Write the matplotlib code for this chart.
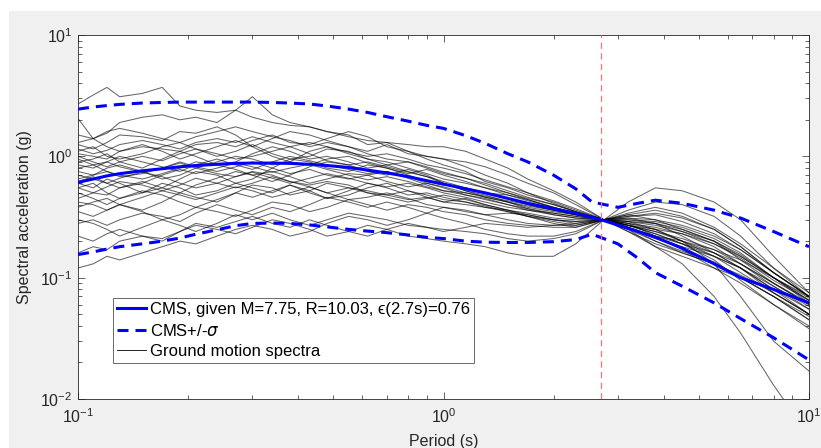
import matplotlib
matplotlib.use("Agg")
import matplotlib.pyplot as plt
from matplotlib.patches import Rectangle

plt.rcParams['font.family'] = ['Liberation Sans', 'DejaVu Sans']
plt.rcParams['mathtext.fontset'] = 'custom'
plt.rcParams['mathtext.rm'] = 'Liberation Sans'
plt.rcParams['mathtext.it'] = 'DejaVu Sans:italic'

# ---- data ----
periods_cms = [0.10, 0.11, 0.12, 0.13, 0.15, 0.17, 0.19, 0.21, 0.24, 0.27, 0.30, 0.34, 0.38, 0.43,
               0.48, 0.55, 0.62, 0.70, 0.80, 0.90, 1.0, 1.15, 1.3, 1.5, 1.7, 2.0, 2.3, 2.7,
               3.2, 3.8, 4.5, 5.5, 6.5, 8.0, 10.0]
cms = [0.61, 0.65, 0.69, 0.72, 0.76, 0.79, 0.82, 0.84, 0.86, 0.875, 0.88, 0.88, 0.875, 0.86,
       0.84, 0.81, 0.77, 0.73, 0.68, 0.63, 0.59, 0.54, 0.50, 0.45, 0.41, 0.37, 0.34, 0.30,
       0.255, 0.215, 0.175, 0.13, 0.10, 0.08, 0.062]

periods_sig = [0.10, 0.11, 0.12, 0.13, 0.15, 0.17, 0.19, 0.21, 0.24, 0.27, 0.30, 0.34, 0.38, 0.43,
               0.48, 0.55, 0.62, 0.70, 0.80, 0.90, 1.0, 1.15, 1.3, 1.5, 1.7, 2.0, 2.3, 2.55,
               3.0, 3.4, 3.8, 4.5, 5.5, 6.5, 8.0, 10.0]
cms_plus = [2.45, 2.55, 2.62, 2.68, 2.75, 2.78, 2.8, 2.8, 2.8, 2.8, 2.8, 2.78, 2.75, 2.7,
            2.6, 2.45, 2.3, 2.12, 1.95, 1.8, 1.7, 1.48, 1.28, 1.05, 0.9, 0.70, 0.54, 0.42,
            0.38, 0.41, 0.435, 0.41, 0.36, 0.31, 0.24, 0.18]
cms_minus = [0.155, 0.163, 0.172, 0.18, 0.19, 0.2, 0.212, 0.228, 0.248, 0.268, 0.28, 0.282, 0.28, 0.272,
             0.262, 0.25, 0.242, 0.235, 0.225, 0.215, 0.21, 0.2, 0.196, 0.195, 0.195, 0.198, 0.206, 0.228,
             0.19, 0.145, 0.11, 0.085, 0.062, 0.046, 0.032, 0.021]

periods_gm = [0.10, 0.11, 0.12, 0.13, 0.15, 0.17, 0.19, 0.21, 0.24, 0.27, 0.30, 0.34, 0.38, 0.43,
              0.48, 0.55, 0.62, 0.70, 0.80, 0.90, 1.0, 1.15, 1.3, 1.5, 1.7, 2.0, 2.3, 2.75,
              3.2, 3.8, 4.5, 5.5, 6.5, 8.0, 10.0]
gm01 = [2.7, 3.2, 3.7, 3.1, 3.3, 3.7, 2.6, 2.4, 2.3, 2.4, 2.1, 1.9, 1.8, 1.75, 1.6, 1.45, 1.35, 1.3, 1.25, 1.2, 1.2, 1.1, 0.95, 0.8, 0.65, 0.52, 0.42, 0.30, 0.30, 0.28, 0.24, 0.19, 0.15, 0.10, 0.07]
gm02 = [2.05, 1.4, 1.55, 1.9, 2.1, 2.2, 2.0, 2.1, 1.9, 2.4, 3.1, 2.2, 1.9, 1.75, 1.6, 1.5, 1.25, 1.3, 1.1, 0.95, 0.85, 0.75, 0.62, 0.55, 0.48, 0.42, 0.36, 0.30, 0.32, 0.34, 0.31, 0.25, 0.18, 0.11, 0.07]
gm03 = [1.25, 1.15, 1.3, 1.5, 1.45, 1.35, 1.6, 1.55, 1.75, 1.5, 1.2, 1.4, 1.6, 1.5, 1.35, 1.2, 1.1, 1.25, 1.05, 1.0, 0.95, 0.9, 0.82, 0.7, 0.6, 0.5, 0.4, 0.30, 0.27, 0.24, 0.2, 0.16, 0.12, 0.08, 0.055]
gm04 = [1.05, 1.0, 0.95, 1.1, 1.2, 1.15, 1.1, 1.25, 1.3, 1.2, 1.35, 1.5, 1.3, 1.25, 1.4, 1.6, 1.45, 1.2, 1.1, 1.0, 0.95, 0.82, 0.7, 0.6, 0.5, 0.41, 0.35, 0.30, 0.36, 0.42, 0.4, 0.32, 0.22, 0.12, 0.075]
gm05 = [0.9, 0.95, 1.05, 0.9, 0.8, 0.95, 1.1, 1.0, 0.85, 0.9, 1.05, 1.2, 1.1, 0.95, 1.0, 0.9, 0.8, 0.85, 0.75, 0.68, 0.6, 0.52, 0.46, 0.42, 0.38, 0.35, 0.33, 0.30, 0.26, 0.22, 0.19, 0.15, 0.12, 0.075, 0.05]
gm06 = [0.75, 0.7, 0.8, 0.85, 0.75, 0.65, 0.7, 0.8, 0.9, 1.0, 0.95, 0.85, 0.9, 1.1, 1.2, 1.05, 0.95, 0.9, 0.8, 0.72, 0.65, 0.6, 0.55, 0.5, 0.45, 0.4, 0.35, 0.30, 0.25, 0.2, 0.165, 0.135, 0.1, 0.07, 0.048]
gm07 = [0.6, 0.55, 0.65, 0.6, 0.5, 0.55, 0.65, 0.75, 0.7, 0.6, 0.65, 0.8, 0.95, 0.9, 0.8, 0.75, 0.85, 0.8, 0.7, 0.62, 0.58, 0.55, 0.5, 0.48, 0.44, 0.38, 0.34, 0.30, 0.27, 0.24, 0.21, 0.17, 0.13, 0.09, 0.062]
gm08 = [0.45, 0.5, 0.48, 0.55, 0.62, 0.55, 0.5, 0.58, 0.66, 0.75, 0.7, 0.62, 0.7, 0.82, 0.9, 0.85, 0.75, 0.7, 0.78, 0.7, 0.6, 0.52, 0.48, 0.42, 0.37, 0.33, 0.31, 0.30, 0.28, 0.25, 0.2, 0.15, 0.11, 0.075, 0.05]
gm09 = [0.16, 0.18, 0.17, 0.2, 0.22, 0.21, 0.24, 0.27, 0.25, 0.23, 0.26, 0.3, 0.28, 0.25, 0.22, 0.24, 0.27, 0.25, 0.22, 0.21, 0.2, 0.19, 0.18, 0.16, 0.15, 0.15, 0.19, 0.30, 0.42, 0.55, 0.52, 0.42, 0.3, 0.15, 0.075]
gm10 = [0.12, 0.13, 0.15, 0.14, 0.16, 0.18, 0.2, 0.19, 0.22, 0.25, 0.27, 0.25, 0.22, 0.24, 0.28, 0.32, 0.3, 0.27, 0.3, 0.34, 0.38, 0.35, 0.33, 0.34, 0.33, 0.3, 0.29, 0.30, 0.29, 0.25, 0.2, 0.13, 0.07, 0.03, 0.017]
gm11 = [0.55, 0.6, 0.5, 0.45, 0.5, 0.6, 0.55, 0.48, 0.52, 0.6, 0.55, 0.5, 0.58, 0.52, 0.45, 0.48, 0.55, 0.6, 0.52, 0.46, 0.42, 0.45, 0.4, 0.36, 0.32, 0.28, 0.26, 0.30, 0.25, 0.18, 0.13, 0.07, 0.035, 0.013, 0.005]
gm12 = [1.1, 1.2, 1.0, 0.95, 1.05, 1.2, 1.3, 1.15, 1.0, 1.1, 1.25, 1.05, 0.95, 1.0, 1.15, 1.1, 0.95, 0.85, 0.9, 0.8, 0.72, 0.66, 0.6, 0.52, 0.46, 0.4, 0.35, 0.30, 0.31, 0.3, 0.27, 0.22, 0.17, 0.11, 0.07]
gm13 = [0.8, 0.85, 0.75, 0.7, 0.65, 0.72, 0.8, 0.9, 0.85, 0.78, 0.7, 0.75, 0.68, 0.6, 0.65, 0.72, 0.7, 0.62, 0.56, 0.6, 0.55, 0.48, 0.44, 0.4, 0.37, 0.34, 0.32, 0.30, 0.24, 0.19, 0.16, 0.13, 0.105, 0.075, 0.05]
gm14 = [0.38, 0.42, 0.45, 0.4, 0.36, 0.42, 0.5, 0.46, 0.42, 0.5, 0.58, 0.55, 0.48, 0.52, 0.6, 0.55, 0.5, 0.46, 0.42, 0.45, 0.48, 0.44, 0.4, 0.36, 0.33, 0.3, 0.28, 0.30, 0.33, 0.3, 0.25, 0.2, 0.15, 0.1, 0.065]
gm15 = [1.3, 1.4, 1.2, 1.1, 1.25, 1.1, 0.95, 1.05, 1.2, 1.35, 1.2, 1.0, 0.9, 0.85, 0.95, 1.0, 0.88, 0.8, 0.72, 0.78, 0.7, 0.62, 0.55, 0.48, 0.43, 0.38, 0.34, 0.30, 0.27, 0.23, 0.19, 0.16, 0.13, 0.09, 0.06]
gm16 = [0.5, 0.45, 0.4, 0.45, 0.52, 0.48, 0.42, 0.38, 0.44, 0.5, 0.46, 0.52, 0.58, 0.5, 0.45, 0.52, 0.6, 0.55, 0.48, 0.5, 0.46, 0.42, 0.38, 0.35, 0.32, 0.29, 0.27, 0.30, 0.34, 0.38, 0.34, 0.26, 0.19, 0.12, 0.07]
gm17 = [0.95, 0.85, 0.9, 1.0, 0.9, 0.82, 0.75, 0.85, 0.95, 0.85, 0.78, 0.9, 1.0, 0.92, 0.85, 0.78, 0.72, 0.75, 0.68, 0.6, 0.56, 0.5, 0.46, 0.42, 0.39, 0.36, 0.33, 0.30, 0.28, 0.26, 0.23, 0.18, 0.13, 0.085, 0.055]
gm18 = [0.65, 0.7, 0.75, 0.68, 0.72, 0.8, 0.9, 0.82, 0.75, 0.82, 0.9, 0.8, 0.72, 0.78, 0.7, 0.65, 0.7, 0.75, 0.66, 0.58, 0.52, 0.48, 0.45, 0.4, 0.36, 0.33, 0.31, 0.30, 0.29, 0.27, 0.24, 0.2, 0.155, 0.1, 0.065]
gm19 = [0.35, 0.32, 0.36, 0.4, 0.35, 0.3, 0.33, 0.38, 0.35, 0.32, 0.36, 0.42, 0.4, 0.35, 0.38, 0.44, 0.4, 0.36, 0.4, 0.38, 0.35, 0.33, 0.3, 0.28, 0.27, 0.26, 0.26, 0.30, 0.28, 0.22, 0.17, 0.12, 0.09, 0.06, 0.04]
gm20 = [1.5, 1.4, 1.6, 1.7, 1.55, 1.4, 1.3, 1.45, 1.6, 1.75, 1.6, 1.45, 1.35, 1.2, 1.3, 1.2, 1.05, 0.95, 0.9, 0.82, 0.74, 0.66, 0.58, 0.5, 0.44, 0.38, 0.34, 0.30, 0.26, 0.22, 0.2, 0.17, 0.14, 0.1, 0.068]
gm21 = [0.7, 0.65, 0.6, 0.66, 0.74, 0.68, 0.6, 0.55, 0.6, 0.68, 0.75, 0.7, 0.62, 0.58, 0.62, 0.58, 0.5, 0.48, 0.52, 0.48, 0.44, 0.42, 0.39, 0.35, 0.32, 0.3, 0.29, 0.30, 0.26, 0.21, 0.18, 0.15, 0.12, 0.085, 0.058]
gm22 = [0.28, 0.3, 0.27, 0.3, 0.34, 0.32, 0.29, 0.34, 0.4, 0.36, 0.33, 0.38, 0.35, 0.4, 0.46, 0.42, 0.38, 0.42, 0.38, 0.34, 0.31, 0.28, 0.25, 0.23, 0.22, 0.22, 0.24, 0.30, 0.31, 0.28, 0.22, 0.16, 0.12, 0.08, 0.05]
gm23 = [1.0, 0.9, 0.82, 0.9, 1.0, 0.92, 1.05, 1.15, 1.05, 0.95, 1.0, 1.1, 1.2, 1.05, 0.92, 0.85, 0.9, 0.82, 0.74, 0.68, 0.62, 0.55, 0.5, 0.45, 0.4, 0.36, 0.33, 0.30, 0.32, 0.33, 0.29, 0.23, 0.17, 0.11, 0.07]
gm24 = [0.42, 0.4, 0.36, 0.4, 0.46, 0.52, 0.48, 0.44, 0.5, 0.56, 0.52, 0.46, 0.5, 0.56, 0.5, 0.44, 0.46, 0.5, 0.45, 0.4, 0.38, 0.36, 0.33, 0.3, 0.28, 0.27, 0.27, 0.30, 0.24, 0.18, 0.15, 0.12, 0.1, 0.07, 0.045]
gm25 = [0.85, 0.8, 0.9, 0.82, 0.74, 0.8, 0.88, 0.8, 0.72, 0.68, 0.74, 0.66, 0.6, 0.66, 0.72, 0.66, 0.6, 0.56, 0.6, 0.55, 0.5, 0.46, 0.42, 0.38, 0.36, 0.34, 0.32, 0.30, 0.29, 0.28, 0.25, 0.2, 0.14, 0.09, 0.06]
gm26 = [0.55, 0.5, 0.56, 0.62, 0.58, 0.52, 0.58, 0.66, 0.6, 0.55, 0.6, 0.68, 0.62, 0.56, 0.5, 0.55, 0.52, 0.48, 0.44, 0.46, 0.42, 0.4, 0.38, 0.36, 0.34, 0.31, 0.3, 0.30, 0.27, 0.23, 0.19, 0.14, 0.095, 0.06, 0.038]
gm27 = [0.3, 0.28, 0.25, 0.22, 0.26, 0.3, 0.27, 0.24, 0.28, 0.33, 0.3, 0.34, 0.3, 0.27, 0.3, 0.34, 0.32, 0.3, 0.27, 0.26, 0.25, 0.24, 0.23, 0.21, 0.2, 0.21, 0.23, 0.30, 0.26, 0.2, 0.16, 0.13, 0.1, 0.07, 0.045]
gm28 = [0.22, 0.2, 0.23, 0.25, 0.22, 0.2, 0.24, 0.28, 0.26, 0.29, 0.32, 0.28, 0.26, 0.3, 0.27, 0.24, 0.22, 0.25, 0.28, 0.26, 0.24, 0.26, 0.28, 0.27, 0.26, 0.27, 0.28, 0.30, 0.33, 0.36, 0.32, 0.25, 0.18, 0.11, 0.07]
gm29 = [0.62, 0.68, 0.6, 0.55, 0.6, 0.7, 0.78, 0.72, 0.8, 0.88, 0.82, 0.74, 0.8, 0.86, 0.78, 0.7, 0.64, 0.68, 0.62, 0.56, 0.52, 0.5, 0.47, 0.43, 0.4, 0.36, 0.33, 0.30, 0.3, 0.29, 0.26, 0.21, 0.16, 0.1, 0.062]
gm30 = [1.15, 1.05, 1.12, 1.25, 1.35, 1.25, 1.15, 1.3, 1.4, 1.3, 1.45, 1.3, 1.2, 1.3, 1.2, 1.08, 1.0, 1.05, 0.95, 0.85, 0.8, 0.72, 0.64, 0.56, 0.5, 0.43, 0.37, 0.30, 0.27, 0.25, 0.23, 0.19, 0.145, 0.095, 0.065]
ground_motions = [gm01, gm02, gm03, gm04, gm05, gm06, gm07, gm08, gm09, gm10,
                  gm11, gm12, gm13, gm14, gm15, gm16, gm17, gm18, gm19, gm20,
                  gm21, gm22, gm23, gm24, gm25, gm26, gm27, gm28, gm29, gm30]

t_star = 2.7
legend_labels = ['CMS, given M=7.75, R=10.03, \u03f5(2.7s)=0.76',
                 'CMS+/-$\\sigma$', 'Ground motion spectra']

# ---- figure ----
W, H = 821, 448
fig = plt.figure(figsize=(W / 100, H / 100), dpi=100, facecolor='white')
fig.patches.append(Rectangle((9 / W, 0), 1 - 9 / W, 1 - 11 / H, transform=fig.transFigure,
                             facecolor='#f0f0f0', edgecolor='none', zorder=-10))
ax = fig.add_axes([78 / W, (H - 399) / H, (809 - 78) / W, (399 - 35) / H])
ax.set_facecolor('white')

gm_handle = None
for rec in ground_motions:
    h, = ax.plot(periods_gm, rec, color='black', lw=0.75, alpha=0.6, zorder=2)
    gm_handle = h

cms_h, = ax.plot(periods_cms, cms, color=(0, 0, 1), lw=2.2, zorder=4)
ax.plot(periods_sig, cms_plus, color=(0, 0, 1), lw=2.2, dashes=(3.6, 2.3), zorder=4)
sig_h, = ax.plot(periods_sig, cms_minus, color=(0, 0, 1), lw=2.2, dashes=(3.6, 2.3), zorder=4)
ax.axvline(t_star, color=(1.0, 0.45, 0.45), lw=0.9, dashes=(5, 3.5), zorder=5)

ax.set_xscale('log')
ax.set_yscale('log')
ax.set_xlim(0.1, 10)
ax.set_ylim(0.01, 10)

edge = '#262626'
for s in ax.spines.values():
    s.set_color(edge)
    s.set_linewidth(0.6)
ax.tick_params(which='both', direction='in', top=True, right=True, colors=edge,
               labelcolor='#262626', width=0.5, labelsize=11.5)
ax.tick_params(which='major', length=5)
ax.tick_params(which='minor', length=2.6)
ax.tick_params(axis='x', pad=6)
ax.tick_params(axis='y', pad=4)

ax.set_xlabel('Period (s)', fontsize=11.5, color='#262626', labelpad=5.5)
ax.set_ylabel('Spectral acceleration (g)', fontsize=11.5, color='#262626', labelpad=6)

leg = ax.legend([cms_h, sig_h, gm_handle], legend_labels, loc='upper left',
                bbox_to_anchor=(35 / 731, (399 - 298) / 364), borderaxespad=0,
                fontsize=12, frameon=True, fancybox=False, handlelength=1.75,
                handletextpad=0.2, labelspacing=0.32, borderpad=0.25)
leg.get_frame().set_edgecolor('#262626')
leg.get_frame().set_linewidth(0.6)
for lh in leg.get_lines():
    lh.set_alpha(1)
leg.get_lines()[2].set_linewidth(0.6)

fig.savefig('out.png', dpi=100, facecolor=fig.get_facecolor())
